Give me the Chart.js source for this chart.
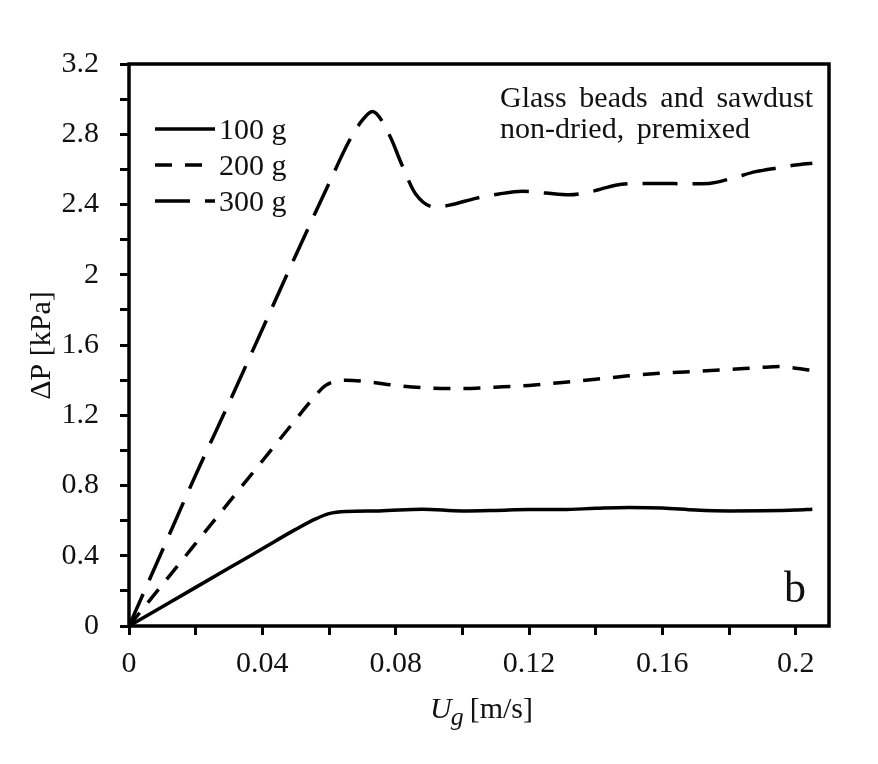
<!DOCTYPE html>
<html>
<head>
<meta charset="utf-8">
<script src="https://cdn.jsdelivr.net/npm/chart.js@4.4.1/dist/chart.umd.min.js"></script>
<style>
  html, body { margin: 0; padding: 0; background: #fff; }
  #wrap { width: 878px; height: 764px; position: relative; }
</style>
</head>
<body>
<div id="wrap"><canvas id="c" width="878" height="764"></canvas></div>
<script>
// ---------- data ----------
const seriesLabels = ['100 g', '200 g', '300 g'];

const u100 = [0, 0.01, 0.02, 0.03, 0.04, 0.05, 0.056, 0.06, 0.065, 0.075, 0.088, 0.1, 0.11, 0.12, 0.13, 0.14, 0.15, 0.16, 0.17, 0.18, 0.19, 0.2, 0.205];
const p100 = [0, 0.11, 0.22, 0.33, 0.44, 0.55, 0.61, 0.64, 0.652, 0.655, 0.665, 0.655, 0.658, 0.663, 0.663, 0.67, 0.675, 0.672, 0.66, 0.655, 0.656, 0.66, 0.665];

const u200 = [0, 0.01, 0.02, 0.03, 0.04, 0.05, 0.055, 0.059, 0.065, 0.072, 0.08, 0.09, 0.1, 0.11, 0.12, 0.13, 0.14, 0.15, 0.16, 0.17, 0.18, 0.19, 0.195, 0.2, 0.205];
const p200 = [0, 0.235, 0.47, 0.705, 0.94, 1.175, 1.29, 1.37, 1.40, 1.39, 1.37, 1.355, 1.352, 1.36, 1.37, 1.387, 1.405, 1.425, 1.44, 1.45, 1.46, 1.473, 1.477, 1.468, 1.455];

const u300 = [0, 0.01, 0.02, 0.03, 0.04, 0.05, 0.06, 0.066, 0.07, 0.073, 0.078, 0.082, 0.086, 0.092, 0.097, 0.104, 0.111, 0.118, 0.125, 0.132, 0.139, 0.146, 0.153, 0.16, 0.167, 0.174, 0.181, 0.188, 0.195, 0.2, 0.205];
const p300 = [0, 0.43, 0.86, 1.27, 1.69, 2.11, 2.52, 2.76, 2.88, 2.93, 2.80, 2.62, 2.46, 2.385, 2.40, 2.435, 2.46, 2.475, 2.465, 2.455, 2.475, 2.51, 2.52, 2.52, 2.518, 2.52, 2.55, 2.587, 2.61, 2.625, 2.635];

const xTickValues = [0, 0.02, 0.04, 0.06, 0.08, 0.1, 0.12, 0.14, 0.16, 0.18, 0.2];
const xTickLabels = ['0', '', '0.04', '', '0.08', '', '0.12', '', '0.16', '', '0.2'];
const yTickValues = [0, 0.2, 0.4, 0.6, 0.8, 1.0, 1.2, 1.4, 1.6, 1.8, 2.0, 2.2, 2.4, 2.6, 2.8, 3.0, 3.2];
const yTickLabels = ['0', '', '0.4', '', '0.8', '', '1.2', '', '1.6', '', '2', '', '2.4', '', '2.8', '', '3.2'];

const xTitleMain = 'U', xTitleSub = 'g', xTitleUnit = '[m/s]';
const yTitle = '\u0394P [kPa]';
const noteLines = ['Glass beads and sawdust', 'non-dried, premixed'];
const panelTag = 'b';

// ---------- styling ----------
const FONT = '"Liberation Serif", "Times New Roman", serif';
const INK = '#111';
const dashes = [[], [17, 13], [35, 15]];

function pts(xs, ys) { return xs.map((x, i) => ({ x: x, y: ys[i] })); }

const frame = {
  id: 'frame',
  afterDatasetsDraw(chart) {
    const { ctx, chartArea: a } = chart;
    ctx.save();
    ctx.strokeStyle = '#000';
    ctx.lineWidth = 3.5;
    ctx.strokeRect(a.left, a.top, a.right - a.left, a.bottom - a.top);
    ctx.restore();
  }
};

const texts = {
  id: 'texts',
  afterDraw(chart) {
    const { ctx, chartArea: a } = chart;
    ctx.save();
    ctx.fillStyle = INK;
    ctx.textBaseline = 'alphabetic';

    // legend
    chart.data.datasets.forEach((ds, i) => {
      const ly = a.top + 65 + i * 36;
      ctx.save();
      ctx.strokeStyle = '#000';
      ctx.lineWidth = ds.borderWidth;
      ctx.setLineDash(ds.borderDash);
      ctx.beginPath();
      ctx.moveTo(a.left + 26, ly);
      ctx.lineTo(a.left + 86, ly);
      ctx.stroke();
      ctx.restore();
      ctx.font = '30px ' + FONT;
      ctx.textAlign = 'left';
      ctx.fillText(ds.label, a.left + 90, ly + 10);
    });

    // note (top right), extra word spacing like the reference
    ctx.font = '30px ' + FONT;
    ctx.textAlign = 'left';
    noteLines.forEach((line, li) => {
      let x = a.left + 371;
      const y = a.top + 43 + li * 31;
      line.split(' ').forEach(w => {
        ctx.fillText(w, x, y);
        x += ctx.measureText(w).width + 12.7;
      });
    });

    // panel tag
    ctx.font = '44px ' + FONT;
    ctx.fillText(panelTag, a.left + 655, a.bottom - 24);

    // x title
    const by = 718;
    let x = 430;
    ctx.font = 'italic 30px ' + FONT;
    ctx.fillText(xTitleMain, x, by);
    x += ctx.measureText(xTitleMain).width - 1;
    ctx.font = 'italic 26px ' + FONT;
    ctx.fillText(xTitleSub, x, by + 7);
    x += ctx.measureText(xTitleSub).width + 6;
    ctx.font = '30px ' + FONT;
    ctx.fillText(xTitleUnit, x, by);

    // y title
    ctx.save();
    ctx.translate(50, 345.5);
    ctx.rotate(-Math.PI / 2);
    ctx.textAlign = 'center';
    ctx.font = '30px ' + FONT;
    ctx.fillText(yTitle, 0, 0);
    ctx.restore();

    ctx.restore();
  }
};

const lineWidth = 3.5;
new Chart(document.getElementById('c'), {
  type: 'line',
  data: {
    datasets: [
      { label: seriesLabels[0], data: pts(u100, p100) },
      { label: seriesLabels[1], data: pts(u200, p200) },
      { label: seriesLabels[2], data: pts(u300, p300) }
    ].map((d, i) => Object.assign(d, {
      borderColor: '#000',
      borderWidth: lineWidth,
      borderDash: dashes[i],
      borderCapStyle: 'butt',
      pointRadius: 0,
      fill: false,
      cubicInterpolationMode: 'monotone'
    }))
  },
  options: {
    responsive: false,
    animation: false,
    devicePixelRatio: 1,
    layout: { padding: { top: 64, right: 49, left: 0, bottom: 0 } },
    plugins: { legend: { display: false }, tooltip: { enabled: false } },
    scales: {
      x: {
        type: 'linear',
        min: 0, max: 0.21,
        afterBuildTicks: s => { s.ticks = xTickValues.map(v => ({ value: v })); },
        afterFit: s => { s.height = 138; },
        border: { display: false },
        grid: { drawOnChartArea: false, drawTicks: true, tickLength: 9, lineWidth: 3, color: '#000' },
        ticks: {
          autoSkip: false, maxRotation: 0, padding: 11, color: INK,
          font: { family: FONT, size: 30 },
          callback: (v, i) => xTickLabels[i]
        }
      },
      y: {
        type: 'linear',
        min: 0, max: 3.2,
        afterBuildTicks: s => { s.ticks = yTickValues.map(v => ({ value: v })); },
        afterFit: s => { s.width = 129; },
        border: { display: false },
        grid: { drawOnChartArea: false, drawTicks: true, tickLength: 9, lineWidth: 3, color: '#000' },
        ticks: {
          autoSkip: false, padding: 21, color: INK,
          font: { family: FONT, size: 30 },
          callback: (v, i) => yTickLabels[i]
        }
      }
    }
  },
  plugins: [frame, texts]
});
</script>
</body>
</html>
